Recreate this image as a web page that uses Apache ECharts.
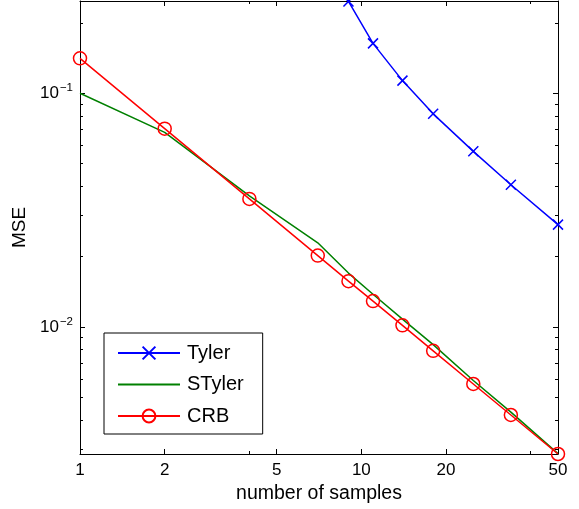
<!DOCTYPE html>
<html><head><meta charset="utf-8">
<script src="https://cdn.jsdelivr.net/npm/echarts@6/dist/echarts.min.js"></script>
<style>html,body{margin:0;padding:0;background:#fff}#c{width:579px;height:509px}</style>
</head><body><div id="c"></div>
<script>
const sampleCounts = [1, 2, 4, 7, 9, 11, 14, 18, 25, 34, 50];
const tylerCounts = [9, 11, 14, 18, 25, 34, 50];
const tylerMSE = [0.247, 0.1634, 0.1132, 0.0816, 0.0564, 0.0406, 0.0274];
const stylerMSE = [0.1, 0.068, 0.0364, 0.0229, 0.0170, 0.0138, 0.0108, 0.0084, 0.0059, 0.00432, 0.00287];
const crbMSE = [0.141, 0.0705, 0.0353, 0.0202, 0.0157, 0.0129, 0.01016, 0.0079, 0.0057, 0.0042, 0.00286];
const xMajorTicks = [1, 2, 5, 10, 20, 50];
const xMinorTicks = [4, 40];
const yMajorTicks = [0.01, 0.1];
const yMinorTicks = [0.003, 0.004, 0.005, 0.006, 0.007, 0.008, 0.009, 0.02, 0.03, 0.04, 0.05, 0.06, 0.07, 0.08, 0.09, 0.2];

const FONT = 'Liberation Sans, Arial, Helvetica, sans-serif';
const chart = echarts.init(document.getElementById('c'), null, {renderer: 'canvas'});
const X_MIN = 1, X_MAX = 50, Y_MIN = 0.00286, Y_MAX = 0.248;

function xAx(pos, major, withLabel) {
  return {
    type: 'log', logBase: 10, min: X_MIN, max: X_MAX, position: pos,
    axisLine: {show: major, lineStyle: {color: '#000', width: 1}},
    axisTick: {show: true, inside: true, length: major ? 5 : 3, customValues: major ? xMajorTicks : xMinorTicks, lineStyle: {color: '#000', width: 1}},
    axisLabel: withLabel ? {show: true, customValues: xMajorTicks, margin: 8, color: '#000', fontSize: 17, fontFamily: FONT, formatter: v => String(Math.round(v))} : {show: false},
    splitLine: {show: false}, minorTick: {show: false}, minorSplitLine: {show: false},
    name: withLabel ? 'number of samples' : '', nameLocation: 'middle', nameGap: 30,
    nameTextStyle: {color: '#000', fontSize: 19.5, fontFamily: FONT}
  };
}
function yAx(pos, major, withLabel) {
  return {
    type: 'log', logBase: 10, min: Y_MIN, max: Y_MAX, position: pos,
    axisLine: {show: major, lineStyle: {color: '#000', width: 1}},
    axisTick: {show: true, inside: true, length: major ? 5 : 3, customValues: major ? yMajorTicks : yMinorTicks, lineStyle: {color: '#000', width: 1}},
    axisLabel: withLabel ? {
      show: true, customValues: yMajorTicks, margin: 7, color: '#000', fontFamily: FONT,
      formatter: v => '{a|10}{b|−' + Math.round(-Math.log10(v)) + '}',
      rich: {a: {fontSize: 17, fontFamily: FONT, color: '#000'}, b: {fontSize: 11.5, fontFamily: FONT, color: '#000', padding: [0, 0, 11, 1]}}
    } : {show: false},
    splitLine: {show: false}, minorTick: {show: false}, minorSplitLine: {show: false},
    name: withLabel ? 'MSE' : '', nameLocation: 'middle', nameGap: 49, nameRotate: 90,
    nameTextStyle: {color: '#000', fontSize: 19, fontFamily: FONT}
  };
}

const xSym = 'path://M0,0L10,10M10,0L0,10';
chart.setOption({
  animation: false,
  backgroundColor: '#fff',
  grid: {left: 80, right: 21, top: 1, bottom: 54, containLabel: false},
  xAxis: [xAx('bottom', true, true), xAx('bottom', false, false), xAx('top', true, false), xAx('top', false, false)],
  yAxis: [yAx('left', true, true), yAx('left', false, false), yAx('right', true, false), yAx('right', false, false)],
  legend: {
    orient: 'vertical', left: 104, top: 333,
    data: ['Tyler', {name: 'STyler', itemStyle: {opacity: 0}}, 'CRB'],
    itemWidth: 62, itemHeight: 16, itemGap: 11.5,
    padding: [10, 19, 8, 13],
    borderColor: '#000', borderWidth: 1, backgroundColor: '#fff',
    textStyle: {color: '#000', fontSize: 20, fontFamily: FONT, padding: [0, 0, 0, 2]}
  },
  series: [
    {name: 'Tyler', type: 'line', xAxisIndex: 0, yAxisIndex: 0,
     data: tylerCounts.map((n, i) => [n, tylerMSE[i]]),
     color: '#0000ff', lineStyle: {color: '#0000ff', width: 1.5},
     symbol: xSym, symbolSize: 10, showAllSymbol: true,
     itemStyle: {color: 'rgba(0,0,0,0)', borderColor: '#0000ff', borderWidth: 1.5}, z: 2},
    {name: 'STyler', type: 'line', xAxisIndex: 0, yAxisIndex: 0,
     data: sampleCounts.map((n, i) => [n, stylerMSE[i]]),
     color: '#008000', lineStyle: {color: '#008000', width: 1.5},
     symbol: 'none', z: 3},
    {name: 'CRB', type: 'line', xAxisIndex: 0, yAxisIndex: 0,
     data: sampleCounts.map((n, i) => [n, crbMSE[i]]),
     color: '#ff0000', lineStyle: {color: '#ff0000', width: 1.5},
     symbol: 'circle', symbolSize: 13, showAllSymbol: true,
     itemStyle: {color: 'rgba(0,0,0,0)', borderColor: '#ff0000', borderWidth: 1.5}, z: 4}
  ]
});
</script></body></html>
